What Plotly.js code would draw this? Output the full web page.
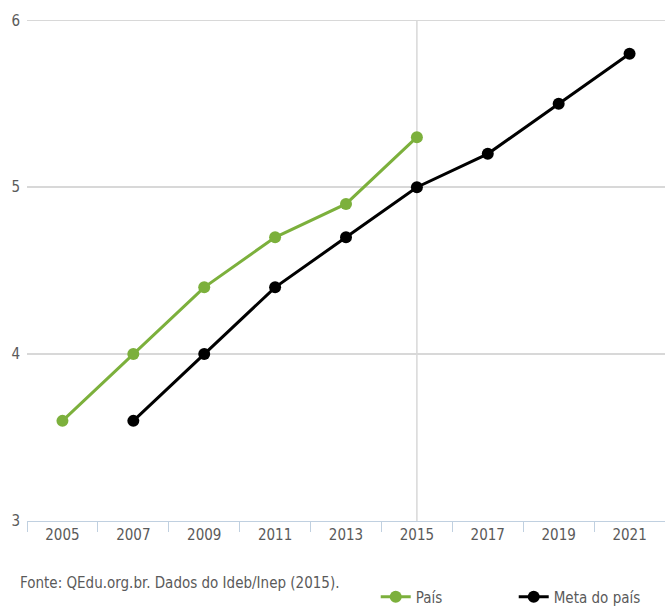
<!DOCTYPE html>
<html><head><meta charset="utf-8">
<script src="https://cdn.plot.ly/plotly-3.0.1.min.js"></script>
<style>body{margin:0;padding:0;background:#fff}#chart{width:665px;height:608px}</style>
</head><body><div id="chart"></div>
<script>
const years = ['2005','2007','2009','2011','2013','2015','2017','2019','2021'];
const paisYears = ['2005','2007','2009','2011','2013','2015'];
const paisValues = [3.6, 4.0, 4.4, 4.7, 4.9, 5.3];
const metaYears = ['2007','2009','2011','2013','2015','2017','2019','2021'];
const metaValues = [3.6, 4.0, 4.4, 4.7, 5.0, 5.2, 5.5, 5.8];
const yTicks = [3, 4, 5, 6];
const highlightYear = '2015';
const sourceText = 'Fonte: QEdu.org.br. Dados do Ideb/Inep (2015).';

const FONT = '"Liberation Sans Narrow", "DejaVu Sans Condensed", "Open Sans", sans-serif';
const TXT = '#5a5a5a';
const hIdx = years.indexOf(highlightYear);

const traces = [
  {x: paisYears, y: paisValues, name: 'País', mode: 'lines+markers', type: 'scatter',
   line: {color: '#7cb03c', width: 3}, marker: {color: '#7cb03c', size: 12}},
  {x: metaYears, y: metaValues, name: 'Meta do país', mode: 'lines+markers', type: 'scatter',
   line: {color: '#000000', width: 3}, marker: {color: '#000000', size: 12}}
];

const layout = {
  width: 665, height: 608,
  margin: {l: 27, r: 0, t: 19, b: 87},
  paper_bgcolor: '#fff', plot_bgcolor: '#fff',
  font: {family: FONT, size: 15, color: TXT},
  showlegend: true,
  legend: {orientation: 'h', xref: 'container', yref: 'container', x: 0.565, y: 0.018,
           xanchor: 'left', yanchor: 'middle', itemwidth: 30, entrywidth: 93, entrywidthmode: 'pixels',
           font: {family: FONT, size: 15, color: TXT}, traceorder: 'normal'},
  xaxis: {type: 'category', categoryorder: 'array', categoryarray: years, range: [-0.5, years.length - 0.5],
          showgrid: false, showline: true, linecolor: '#c0d0e0', linewidth: 1,
          ticks: 'outside', tickson: 'boundaries', ticklen: 10, tickcolor: '#c0d0e0',
          tickfont: {family: FONT, size: 15, color: TXT}, zeroline: false, fixedrange: true},
  yaxis: {range: [3, 6.008], tickvals: yTicks, showgrid: true, gridcolor: '#d8d8d8', gridwidth: 1.5,
          zeroline: false, showline: false, ticks: '', ticklabelstandoff: 6,
          tickfont: {family: FONT, size: 15, color: TXT}, fixedrange: true},
  shapes: [{type: 'line', xref: 'x', yref: 'y', x0: hIdx, x1: hIdx, y0: yTicks[0], y1: yTicks[yTicks.length - 1],
            line: {color: '#d8d8d8', width: 1.5}, layer: 'below'}],
  annotations: [{text: sourceText, xref: 'paper', yref: 'paper', x: -9/638, y: -62/502,
                 xanchor: 'left', yanchor: 'middle', showarrow: false,
                 font: {family: FONT, size: 15, color: TXT}}]
};

Plotly.newPlot('chart', traces, layout, {displayModeBar: false, staticPlot: true});
</script></body></html>
